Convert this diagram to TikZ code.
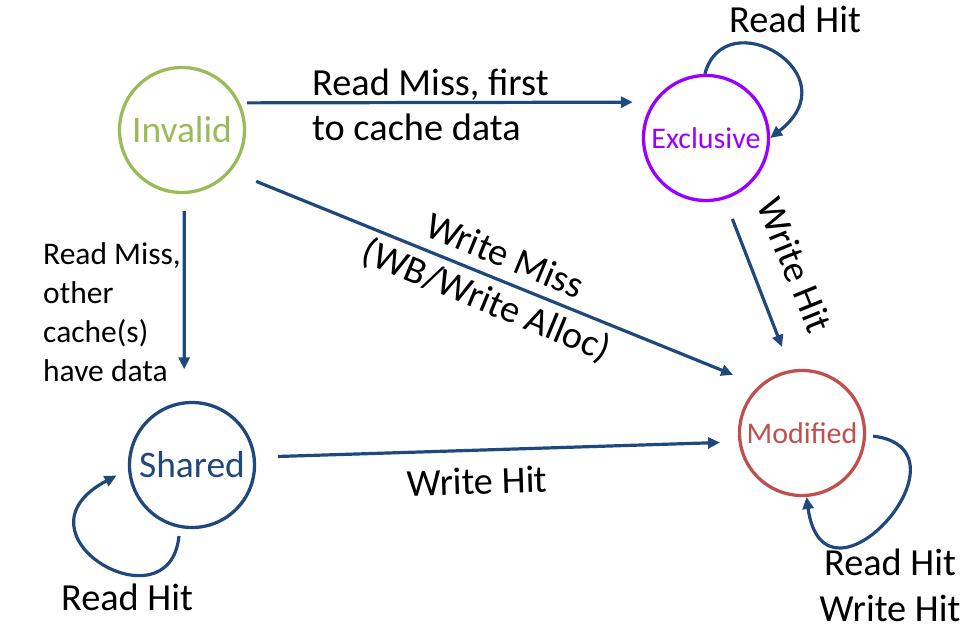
\documentclass[tikz,border=0pt]{standalone}
\usepackage{fontspec}
\setmainfont{Carlito}
\usepackage{xcolor}
\usetikzlibrary{arrows.meta,positioning}

\definecolor{linkblue}{RGB}{31,73,125}
\definecolor{invgreen}{RGB}{155,187,89}
\definecolor{exclpurple}{RGB}{153,0,255}
\definecolor{modred}{RGB}{192,80,77}

\begin{document}
\begin{tikzpicture}[
    x=1pt, y=-1pt,
    state/.style={circle, draw, line width=3.3pt, minimum size=125pt, inner sep=0pt},
    trans/.style={draw=linkblue, line width=3.2pt, -{Triangle[length=12pt,width=11pt]}},
    biglbl/.style={inner sep=0pt, font=\fontsize{38.3}{45}\selectfont},
    sidelbl/.style={inner sep=0pt, align=left, font=\fontsize{31.5}{39}\selectfont}
]
    \useasboundingbox (0,0) rectangle (976,644);

    % states
    \node[state, draw=invgreen, text=invgreen, font=\fontsize{37.5}{45}\selectfont] (inv) at (182,130) {Invalid};
    \node[state, draw=exclpurple, text=exclpurple, font=\fontsize{30}{36}\selectfont] (excl) at (706,138) {Exclusive};
    \node[state, draw=linkblue, text=linkblue, font=\fontsize{37.5}{45}\selectfont] (shr) at (192,465) {Shared};
    \node[state, draw=modred, text=modred, font=\fontsize{30}{36}\selectfont] (mod) at (802,433) {Modified};

    % transitions
    \draw[trans, shorten <=7pt, shorten >=20pt] (inv.25) -- (excl.146);
    \draw[trans, shorten <=27pt, shorten >=28pt] (inv.-40.6) -- (mod.132);
    \draw[trans, shorten <=17pt, shorten >=32pt] (inv.-88) -- (shr.97);
    \draw[trans, shorten <=21pt, shorten >=24.5pt] (excl.-73.4) -- (mod.100);
    \draw[trans, shorten <=22.5pt, shorten >=18.5pt] (shr.7.4) -- (mod.-172.5);

    % self loops
    \draw[trans] (excl.91) .. controls +(20,-74) and +(83,-64) .. (excl.0);
    \draw[trans, shorten <=8pt, shorten >=13pt] (shr.-101) .. controls +(-10,102) and +(-123,65) .. (shr.184);
    \draw[trans, shorten <=7pt] (mod.-2) .. controls +(114,14) and +(18,128) .. (mod.-86);

    % labels
    \node[biglbl, align=left, anchor=north west] (lblrm) at (312,69) {Read Miss, first\\to cache data};
    \node[sidelbl, anchor=north west] (lblrmo) at (43,242) {Read Miss,\\other\\cache(s)\\have data};
    \node[biglbl, align=center, rotate=-22.5, font=\fontsize{38.3}{48}\selectfont] (lblwm) at (495,279.5) {Write Miss\\(WB/Write Alloc)};
    \node[biglbl, rotate=-68] (lblwhe) at (795,265) {Write Hit};
    \node[biglbl, rotate=1.8] (lblwhs) at (477,481) {Write Hit};
    \node[biglbl] (lblrhe) at (795,19) {Read Hit};
    \node[biglbl] (lblrhs) at (127,597) {Read Hit};
    \node[biglbl, align=center, anchor=north, font=\fontsize{38.3}{46}\selectfont] (lblrhm) at (890,549) {Read Hit\\Write Hit};
\end{tikzpicture}
\end{document}
